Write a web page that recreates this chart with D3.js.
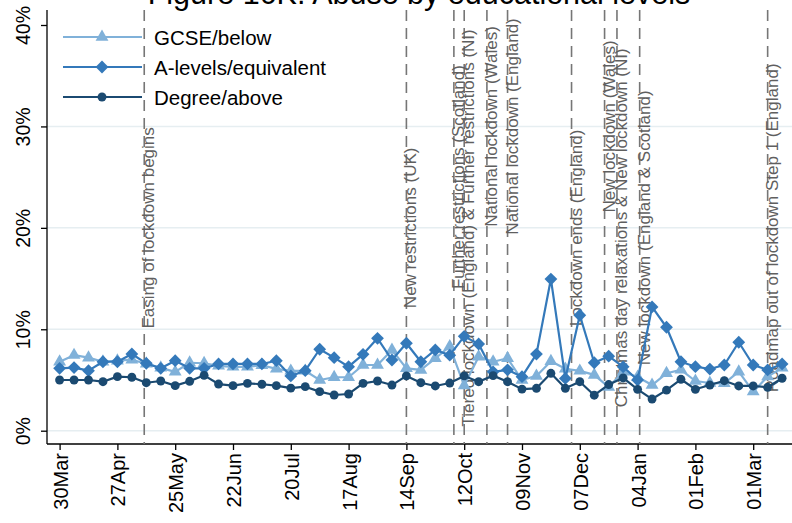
<!DOCTYPE html>
<html>
<head>
<meta charset="utf-8">
<script src="https://cdn.jsdelivr.net/npm/d3@7"></script>
<style>
  body { margin: 0; background: #fff; }
  svg { display: block; }
  text { font-family: "Liberation Sans", Arial, Helvetica, sans-serif; }
</style>
</head>
<body>
<svg id="chart" width="792" height="523"></svg>
<script>
// Weekly share (%) reporting abuse, by educational level, from w/c 30 Mar 2020
const firstWeek = "2020-03-30";
const gcse = [6.8, 7.45, 7.2, 6.8, 6.9, 7.0, 6.6, 6.2, 5.8, 6.7, 6.65, 6.4, 6.3, 6.3, 6.45, 6.1, 5.9,
  5.9, 5.0, 5.27, 5.27, 6.48, 6.48, 7.96, 6.15, 5.99, 7.14, 8.3, 4.45, 7.3, 6.8, 7.14, 5.0,
  5.4, 6.85, 6.1, 5.9, 5.5, 4.3, 5.8, 5.3, 4.5, 5.66, 6.0, 4.9, 4.7, 4.67, 5.82, 3.85, 5.33, 6.2];
const alevels = [6.15, 6.22, 5.92, 6.8, 6.8, 7.56, 6.64, 6.15, 6.9, 6.15, 6.15, 6.58, 6.58, 6.58, 6.58, 6.9, 5.4,
  5.92, 8.03, 7.2, 6.31, 7.53, 9.11, 6.97, 8.62, 6.8, 7.96, 7.45, 9.3, 8.55, 5.8, 6.0, 5.33,
  7.55, 14.95, 5.15, 11.38, 6.7, 7.35, 6.3, 5.0, 12.2, 10.2, 6.8, 6.31, 6.08, 6.48, 8.72, 6.48, 5.99, 6.58];
const degree = [5.0, 5.0, 5.0, 4.83, 5.33, 5.27, 4.73, 4.9, 4.44, 4.87, 5.46, 4.6, 4.44, 4.67, 4.58, 4.44, 4.2,
  4.34, 3.85, 3.52, 3.62, 4.67, 4.9, 4.5, 5.4, 4.73, 4.41, 4.7, 5.4, 4.83, 5.43, 4.83, 4.1,
  4.18, 5.66, 4.18, 4.83, 3.5, 4.55, 5.2, 4.08, 3.12, 4.0, 5.07, 4.08, 4.5, 4.93, 4.41, 4.41, 4.28, 5.17];

const seriesNames = ["GCSE/below", "A-levels/equivalent", "Degree/above"];
const seriesColors = ["#80b1d9", "#3479ba", "#1b4a71"];
const seriesSymbols = ["triangle", "diamond", "circle"];

const xTickDates = ["2020-03-30", "2020-04-27", "2020-05-25", "2020-06-22", "2020-07-20", "2020-08-17",
  "2020-09-14", "2020-10-12", "2020-11-09", "2020-12-07", "2021-01-04", "2021-02-01", "2021-03-01"];
const xTickLabels = ["30Mar", "27Apr", "25May", "22Jun", "20Jul", "17Aug", "14Sep", "12Oct",
  "09Nov", "07Dec", "04Jan", "01Feb", "01Mar"];
const yTicks = [0, 10, 20, 30, 40];

// Policy events: date, label, and the level (%) the label is centred on
const eventDates = ["2020-05-10", "2020-09-14", "2020-10-07", "2020-10-12", "2020-10-23", "2020-11-02",
  "2020-12-03", "2020-12-19", "2020-12-25", "2021-01-05", "2021-03-08"];
const eventLabels = ["Easing of lockdown begins", "New restrictions (UK)", "Further restrictions (Scotland)",
  "Tiered lockdown (England) & Further restrictions (NI)", "National lockdown (Wales)",
  "National lockdown (England)", "Lockdown ends (England)", "New lockdown (Wales)",
  "Christmas day relaxations & New lockdown (NI)", "New lockdown (England & Scotland)",
  "Roadmap out of lockdown Step 1 (England)"];
const eventLevels = [20, 20, 25, 20, 30, 30, 20, 30, 20, 20, 20];

const parse = d3.utcParse("%Y-%m-%d");
const weekDates = d3.range(gcse.length).map(i => d3.utcDay.offset(parse(firstWeek), 7 * i));

const svg = d3.select("#chart");
const W = 792, H = 523;
const plot = { left: 47, right: 800, top: 10, bottom: 444 };

const x = d3.scaleUtc()
  .domain([parse("2020-03-30"), parse("2021-03-01")])
  .range([59.6, 753.2]);
const y = d3.scaleLinear().domain([0, 40]).range([430.7, 25]);

// Title (sits partly above the canvas)
svg.append("text")
  .attr("x", 419).attr("y", 4)
  .attr("text-anchor", "middle")
  .attr("font-size", 30.5)
  .attr("fill", "#000")
  .text("Figure 16K: Abuse by educational levels");

// Gridlines
svg.append("g").selectAll("line")
  .data(yTicks.filter(d => d < 40))
  .join("line")
  .attr("x1", plot.left).attr("x2", W)
  .attr("y1", d => y(d)).attr("y2", d => y(d))
  .attr("stroke", "#e6eef1").attr("stroke-width", 1.5);

// Y axis
const yAxis = d3.axisLeft(y).tickValues(yTicks).tickSize(6).tickFormat(d => d + "%");
const gy = svg.append("g").attr("transform", `translate(${plot.left},0)`).call(yAxis);
gy.select(".domain").attr("d", `M0,${plot.top}V${plot.bottom}`).attr("stroke", "#000").attr("stroke-width", 1.3);
gy.selectAll(".tick line").attr("stroke", "#000").attr("stroke-width", 1.3);
gy.selectAll(".tick text")
  .attr("font-size", 19.5)
  .attr("fill", "#000")
  .attr("text-anchor", "middle")
  .attr("transform", "translate(-17,0) rotate(-90)")
  .attr("x", 0).attr("y", 0).attr("dy", 0);

// X axis
const xAxis = d3.axisBottom(x).tickValues(xTickDates.map(parse)).tickSize(6)
  .tickFormat((d, i) => xTickLabels[i]);
const gx = svg.append("g").attr("transform", `translate(0,${plot.bottom})`).call(xAxis);
gx.select(".domain").attr("d", `M${plot.left},0H${W}`).attr("stroke", "#000").attr("stroke-width", 1.3);
gx.selectAll(".tick line").attr("stroke", "#000").attr("stroke-width", 1.3);
gx.selectAll(".tick text")
  .attr("font-size", 20)
  .attr("fill", "#000")
  .attr("text-anchor", "end")
  .attr("transform", "translate(7.5,9) rotate(-90)")
  .attr("x", 0).attr("y", 0).attr("dy", 0);

// Event lines and labels
const ev = svg.append("g");
ev.selectAll("line")
  .data(eventDates)
  .join("line")
  .attr("x1", d => x(parse(d))).attr("x2", d => x(parse(d)))
  .attr("y1", plot.top).attr("y2", plot.bottom)
  .attr("stroke", "#767676").attr("stroke-width", 1.6)
  .attr("stroke-dasharray", "11,7");
ev.selectAll("text")
  .data(eventLabels)
  .join("text")
  .attr("transform", (d, i) => `translate(${x(parse(eventDates[i])) + 10},${y(eventLevels[i])}) rotate(-90)`)
  .attr("text-anchor", "middle")
  .attr("font-size", 17)
  .attr("fill", "#5f5f5f")
  .text(d => d);

// Series markers: triangle, square turned 45° (diamond), circle
const symbolSize = { triangle: 72, diamond: 82, circle: 62 };
const symbolType = { triangle: d3.symbolTriangle, diamond: d3.symbolSquare, circle: d3.symbolCircle };
const symbolRotate = { triangle: 0, diamond: 45, circle: 0 };
const allSeries = [gcse, alevels, degree];
const line = d3.line().x((d, i) => x(weekDates[i])).y(d => y(d));

allSeries.forEach((vals, s) => {
  const kind = seriesSymbols[s];
  const g = svg.append("g");
  g.append("path")
    .datum(vals)
    .attr("d", line)
    .attr("fill", "none")
    .attr("stroke", seriesColors[s])
    .attr("stroke-width", 2.2)
    .attr("stroke-linejoin", "round");
  const sym = d3.symbol().type(symbolType[kind]).size(symbolSize[kind]);
  g.selectAll("path.m")
    .data(vals)
    .join("path")
    .attr("class", "m")
    .attr("d", sym)
    .attr("transform", (d, i) => `translate(${x(weekDates[i])},${y(d)}) rotate(${symbolRotate[kind]})`)
    .attr("fill", seriesColors[s]);
});

// Legend
const legendRows = [37, 67, 97];
const lg = svg.append("g");
seriesNames.forEach((name, s) => {
  const ry = legendRows[s];
  const kind = seriesSymbols[s];
  lg.append("line").attr("x1", 63).attr("x2", 142).attr("y1", ry).attr("y2", ry)
    .attr("stroke", seriesColors[s]).attr("stroke-width", 2.2);
  lg.append("path")
    .attr("d", d3.symbol().type(symbolType[kind]).size(symbolSize[kind])())
    .attr("transform", `translate(102,${ry}) rotate(${symbolRotate[kind]})`)
    .attr("fill", seriesColors[s]);
  lg.append("text").attr("x", 154).attr("y", ry + 7.5)
    .attr("font-size", 20.5).attr("fill", "#000").text(name);
});
</script>
</body>
</html>
